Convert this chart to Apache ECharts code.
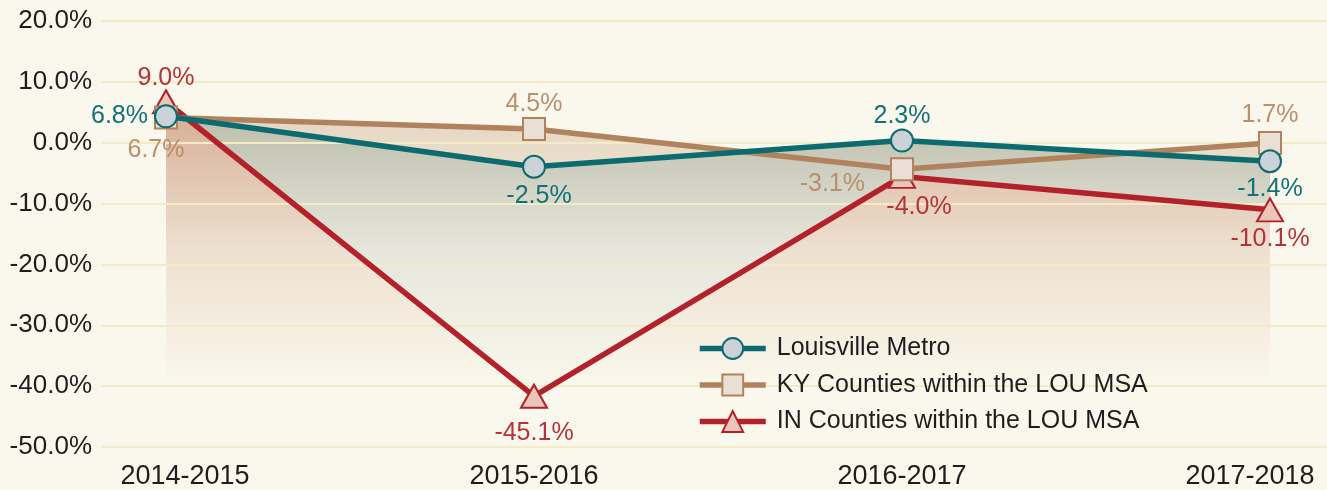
<!DOCTYPE html>
<html>
<head>
<meta charset="utf-8">
<script src="https://cdn.jsdelivr.net/npm/echarts@6/dist/echarts.min.js"></script>
<style>
  html, body { margin: 0; padding: 0; background: #faf8ec; }
  #chart { width: 1327px; height: 490px; }
</style>
</head>
<body>
<div id="chart"></div>
<script>
// categories + values (values read from plotted positions, labels as printed)
const years = ['2014-2015', '2015-2016', '2016-2017', '2017-2018'];
const yTicks = [-50, -40, -30, -20, -10, 0, 10, 20];

const louValues = [4.3, -4.0, 0.3, -3.1];
const louLabels = ['6.8%', '-2.5%', '2.3%', '-1.4%'];

const kyValues = [4.1, 2.2, -4.4, -0.1];
const kyLabels = ['6.7%', '4.5%', '-3.1%', '1.7%'];

const inValues = [6.7, -41.8, -5.6, -11.1];
const inLabels = ['9.0%', '-45.1%', '-4.0%', '-10.1%'];

const FONT = '"Liberation Sans", Arial, sans-serif';
const BG = '#faf8ec';
const chart = echarts.init(document.getElementById('chart'));

// opaque fill fading into the background, in page pixels so all areas share it
function fade(top, mid) {
    return new echarts.graphic.LinearGradient(0, 110, 0, 390, [
        { offset: 0, color: top },
        { offset: 0.5, color: mid },
        { offset: 1, color: BG }
    ], true);
}

function pts(values, labels, cfg) {
    return values.map((v, i) => ({
        value: v,
        label: Object.assign({ formatter: labels[i] }, cfg[i])
    }));
}

function areaSeries(name, values, fill) {
    return {
        name: name, type: 'line', xAxisIndex: 1, yAxisIndex: 1,
        data: values, symbol: 'none', silent: true, z: 1,
        lineStyle: { width: 0 },
        areaStyle: { origin: 'start', color: fill, opacity: 1 }
    };
}

chart.setOption({
    backgroundColor: BG,
    textStyle: { fontFamily: FONT },
    grid: [
        { left: 101, right: 0, top: 21, bottom: 43 },
        { left: 166, right: 57, top: 21, bottom: 43 }
    ],
    xAxis: [
        { gridIndex: 0, type: 'value', show: false, min: 0, max: 1 },
        {
            gridIndex: 1, type: 'category', data: years, boundaryGap: false,
            axisLine: { show: false }, axisTick: { show: false },
            axisLabel: {
                fontSize: 27, color: '#1e1e1e', margin: 17, fontFamily: FONT,
                formatter: (v, i) => i === 0 ? '{a|' + v + '}' : (i === years.length - 1 ? '{b|' + v + '}' : v),
                rich: {
                    a: { fontSize: 27, color: '#1e1e1e', padding: [0, 0, 0, 38] },
                    b: { fontSize: 27, color: '#1e1e1e', padding: [0, 40, 0, 0] }
                }
            }
        }
    ],
    yAxis: [
        {
            gridIndex: 0, type: 'value', min: yTicks[0], max: yTicks[yTicks.length - 1], interval: 10,
            z: 2,
            axisLine: { show: false }, axisTick: { show: false },
            axisLabel: { fontSize: 26, color: '#1e1e1e', margin: 9, formatter: v => v.toFixed(1) + '%' },
            splitLine: { lineStyle: { color: '#f3ebc6', width: 2 } }
        },
        {
            gridIndex: 1, type: 'value', min: yTicks[0], max: yTicks[yTicks.length - 1], interval: 10,
            show: false, splitLine: { show: false }
        }
    ],
    legend: {
        orient: 'vertical', left: 692, top: 331,
        itemWidth: 66, itemHeight: 26, itemGap: 11.5,
        lineStyle: { width: 5.5 },
        data: ['Louisville Metro', 'KY Counties within the LOU MSA', 'IN Counties within the LOU MSA'],
        textStyle: { fontSize: 25, color: '#1e1e1e', padding: [0, 0, 0, 6] }
    },
    series: [
        areaSeries('kyArea', kyValues, fade('#e5d6c1', '#f2eadc')),
        areaSeries('louArea', louValues, fade('#bcbcab', '#e6e6dc')),
        areaSeries('inArea', inValues, fade('#d7ae96', '#eee0d1')),
        {
            name: 'IN Counties within the LOU MSA', type: 'line', xAxisIndex: 1, yAxisIndex: 1, z: 3,
            data: pts(inValues, inLabels, [
                { position: 'top', distance: 2, offset: [0, 3] },
                { position: 'bottom', distance: 12 },
                { position: 'bottom', distance: 6, offset: [17, 0] },
                { position: 'bottom', distance: 4 }
            ]),
            symbol: 'triangle', symbolSize: [26, 23],
            lineStyle: { color: '#b3222a', width: 5.5 },
            itemStyle: { color: '#e9c5ba', borderColor: '#b3222a', borderWidth: 2 },
            label: { show: true, fontSize: 25, color: '#b5323a' }
        },
        {
            name: 'KY Counties within the LOU MSA', type: 'line', xAxisIndex: 1, yAxisIndex: 1, z: 3,
            data: pts(kyValues, kyLabels, [
                { position: 'bottom', distance: 8, offset: [-10, 0] },
                { position: 'top', distance: 0 },
                { position: 'left', distance: 25, offset: [0, 15] },
                { position: 'top', distance: 3 }
            ]),
            symbol: 'rect', symbolSize: 22,
            lineStyle: { color: '#b0835e', width: 5.5 },
            itemStyle: { color: '#e9dfd4', borderColor: '#b0835e', borderWidth: 2 },
            label: { show: true, fontSize: 25, color: '#b98f6c' }
        },
        {
            name: 'Louisville Metro', type: 'line', xAxisIndex: 1, yAxisIndex: 1, z: 4,
            data: pts(louValues, louLabels, [
                { position: 'left', distance: 6 },
                { position: 'bottom', distance: 5, offset: [5, 0] },
                { position: 'top', distance: 0 },
                { position: 'bottom', distance: 3 }
            ]),
            symbol: 'circle', symbolSize: 22,
            lineStyle: { color: '#0b6b6e', width: 5.5 },
            itemStyle: { color: '#cbd3d8', borderColor: '#0b6b6e', borderWidth: 2 },
            label: { show: true, fontSize: 25, color: '#127174' }
        }
    ]
});
</script>
</body>
</html>
